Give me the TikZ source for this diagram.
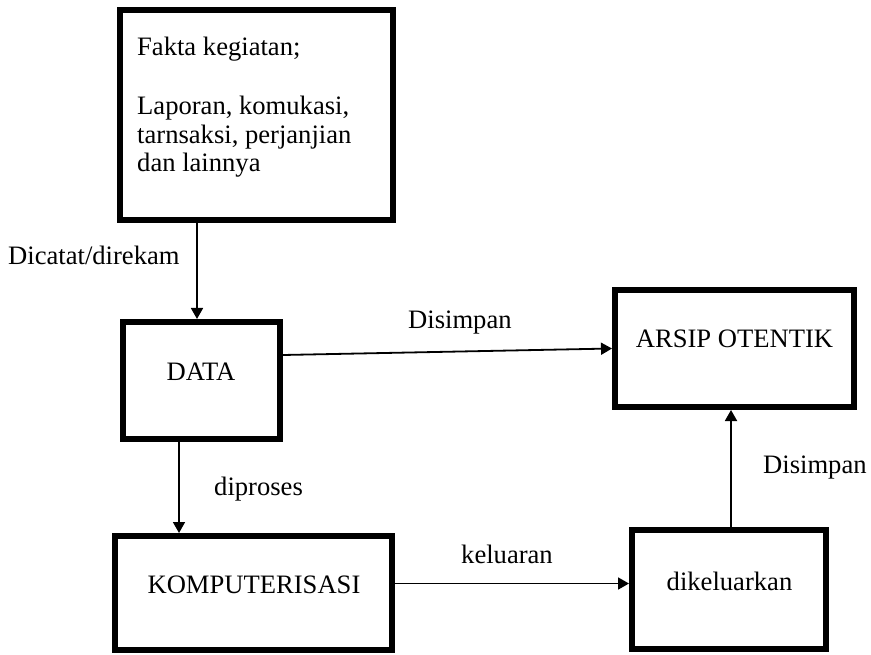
\documentclass[tikz,border=0pt]{standalone}
\usepackage{fontspec}
\setmainfont{Liberation Serif}
\usetikzlibrary{arrows.meta}
\begin{document}
\begin{tikzpicture}[x=1pt,y=-1pt,
  box/.style={draw=black,line width=6pt,fill=none,inner sep=0pt},
  txt/.style={inner sep=0pt,font=\fontsize{26.6}{29}\selectfont},
  arr/.style={draw=black,line width=1.8pt,-{Triangle[length=11pt,width=12pt]}}]
\useasboundingbox (0,0) rectangle (871,655);
% boxes
\node[box,minimum width=273pt,minimum height=210pt] (fakta) at (256.5,115) {};
\node[box,minimum width=157pt,minimum height=117pt] (data) at (201.5,380.5) {};
\node[box,minimum width=239pt,minimum height=117pt] (arsip) at (734.5,348.5) {};
\node[box,minimum width=277pt,minimum height=114pt] (komp) at (253.5,593) {};
\node[box,minimum width=194pt,minimum height=119pt] (dikel) at (729,589.5) {};
% box texts
\node[txt,anchor=base west] (t1) at (137,56) {Fakta kegiatan;};
\node[txt,anchor=base west] (t2) at (137,115) {Laporan, komukasi,};
\node[txt,anchor=base west] (t3) at (137,143.5) {tarnsaksi, perjanjian};
\node[txt,anchor=base west] (t4) at (137,172) {dan lainnya};
\node[txt,anchor=base] (tdata) at (201,381) {DATA};
\node[txt,anchor=base] (tarsip) at (734.5,348) {ARSIP OTENTIK};
\node[txt,anchor=base] (tkomp) at (254,593) {KOMPUTERISASI};
\node[txt,anchor=base] (tdikel) at (729.5,590) {dikeluarkan};
% connector labels
\node[txt,anchor=base west] (l1) at (8,265) {Dicatat/direkam};
\node[txt,anchor=base west] (l2) at (408,329) {Disimpan};
\node[txt,anchor=base west] (l3) at (214,495) {diproses};
\node[txt,anchor=base west] (l4) at (461,563) {keluaran};
\node[txt,anchor=base west] (l5) at (763,473) {Disimpan};
% connectors
\coordinate (p1) at ([xshift=-4.5pt]data.north);
\draw[arr] (p1 |- fakta.south) -- (p1);
\draw[arr] ([yshift=25.5pt]data.east) -- (arsip.west);
\coordinate (p2) at ([xshift=-22.5pt]data.south);
\draw[arr] (p2) -- (p2 |- komp.north);
\coordinate (p3) at ([yshift=9.5pt]komp.east);
\draw[arr] (p3) -- (p3 -| dikel.west);
\coordinate (p4) at ([xshift=2pt]dikel.north);
\draw[arr] (p4) -- (p4 |- arsip.south);
\end{tikzpicture}
\end{document}
